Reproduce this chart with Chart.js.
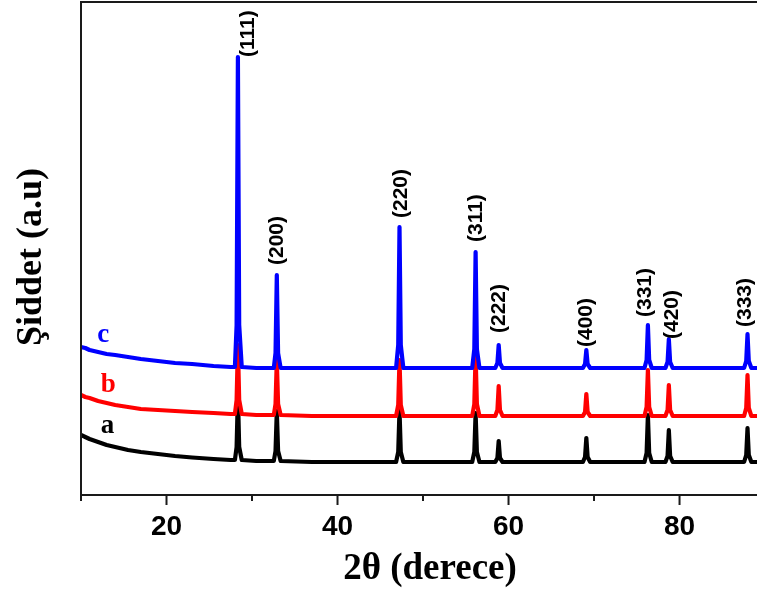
<!DOCTYPE html>
<html>
<head>
<meta charset="utf-8">
<script src="https://cdn.jsdelivr.net/npm/chart.js@4/dist/chart.umd.min.js"></script>
<style>
html, body { margin:0; padding:0; background:#fff; }
#wrap { width:757px; height:595px; }
</style>
</head>
<body>
<div id="wrap"><canvas id="xrd" width="757" height="595"></canvas></div>
<script>
/* 2theta positions (degrees) */
let twoTheta = [
10, 10.5, 11, 12, 13, 14, 15.5, 17, 19, 21, 23, 25.5, 27.5,
28.0, 28.2, 28.35, 28.5, 28.8,
30.5,
32.55, 32.75, 32.9, 33.05, 33.35,
37, 42,
46.85, 47.1, 47.25, 47.4, 47.7,
52,
55.75, 56.0, 56.15, 56.3, 56.6,
57.7,
58.45, 58.7, 58.85, 59.0, 59.3,
64,
68.7, 68.95, 69.1, 69.25, 69.55,
73,
75.9, 76.15, 76.3, 76.45, 76.75,
77.7,
78.35, 78.6, 78.75, 78.9, 79.2,
83,
87.55, 87.8, 87.95, 88.1, 88.4,
89.5
];

/* intensity (a.u.), sample a - black */
let seriesA = [
60, 58, 56, 53, 50, 48, 45, 43, 41, 39, 37.5, 36, 35,
35, 48, 100, 48, 35,
34,
34, 44, 84, 44, 34,
33, 33,
33, 43, 85, 43, 33,
33,
33, 43, 82, 43, 33,
33,
33, 37, 54, 37, 33,
33,
33, 38, 57, 38, 33,
33,
33, 42, 80, 42, 33,
33,
33, 39, 65, 39, 33,
33,
33, 40, 67, 40, 33,
33
];

/* sample b - red */
let seriesB = [
100, 98, 97, 94, 92, 90, 88, 86, 85, 84, 83, 82, 81,
81, 95, 150, 95, 81,
80,
80, 91, 135, 91, 80,
79, 79,
79, 90, 135, 90, 79,
79,
79, 91, 140, 91, 79,
79,
79, 85, 109, 85, 79,
79,
79, 83, 101, 83, 79,
79,
79, 88, 125, 88, 79,
79,
79, 85, 110, 85, 79,
79,
79, 87, 120, 87, 79,
79
];

/* sample c - blue */
let seriesC = [
148, 147, 145, 143, 141, 140, 138, 136, 134, 132, 131, 129, 128,
128, 170, 438, 170, 128,
127,
127, 142, 220, 142, 127,
127, 127,
127, 150, 268, 150, 127,
127,
127, 146, 243, 146, 127,
127,
127, 132, 150, 132, 127,
127,
127, 131, 145, 131, 127,
127,
127, 135, 170, 135, 127,
127,
127, 133, 156, 133, 127,
127,
127, 134, 161, 134, 127,
127
];

/* reflections and the index of each peak top in the arrays */
let hkl = ['(111)', '(200)', '(220)', '(311)', '(222)', '(400)', '(331)', '(420)', '(333)'];
let peakIdx = [15, 21, 28, 34, 40, 46, 52, 58, 64];

let xTicks = [10, 20, 30, 40, 50, 60, 70, 80, 90];

function pts(ys) {
  return twoTheta.map((x, i) => ({x: x, y: ys[i]}));
}

/* label offsets in px: [dx, gap above peak top] */
const labelOff = [[10, 0], [0, 10], [2, 9], [1, 10], [1, 12], [0, 3], [-3, 8], [3, 0], [-2, 7]];

const decor = {
  id: 'decor',
  afterDatasetsDraw(chart) {
    const ctx = chart.ctx;
    const area = chart.chartArea;
    const xs = chart.scales.x;
    const ys = chart.scales.y;
    ctx.save();

    // frame: left, top, bottom
    ctx.strokeStyle = '#1a1a1a';
    ctx.lineWidth = 2;
    ctx.beginPath();
    ctx.moveTo(area.left, area.bottom);
    ctx.lineTo(area.left, area.top);
    ctx.lineTo(chart.width, area.top);
    ctx.moveTo(area.left, area.bottom);
    ctx.lineTo(chart.width, area.bottom);
    ctx.stroke();

    // ticks, outward
    xTicks.forEach(v => {
      const px = xs.getPixelForValue(v);
      if (px < area.left - 1 || px > chart.width) return;
      const len = (v % 20 === 0) ? 10 : 6;
      ctx.beginPath();
      ctx.moveTo(px, area.bottom);
      ctx.lineTo(px, area.bottom + len);
      ctx.stroke();
    });

    // peak labels
    ctx.fillStyle = '#000';
    ctx.font = 'bold 21px "Liberation Sans", Arial, sans-serif';
    ctx.textAlign = 'left';
    ctx.textBaseline = 'middle';
    hkl.forEach((t, i) => {
      const k = peakIdx[i];
      const px = xs.getPixelForValue(twoTheta[k]) + labelOff[i][0];
      const py = ys.getPixelForValue(seriesC[k]) - labelOff[i][1];
      ctx.save();
      ctx.translate(px, py);
      ctx.rotate(-Math.PI / 2);
      ctx.fillText(t, 0, 0);
      ctx.restore();
    });

    // sample tags
    ctx.font = 'bold 27px "Liberation Serif", "Times New Roman", serif';
    ctx.textAlign = 'center';
    ctx.textBaseline = 'middle';
    [['c', '#0000ff', 12.6, 160], ['b', '#ff0000', 13.2, 110], ['a', '#000000', 13.1, 69]].forEach(s => {
      ctx.fillStyle = s[1];
      ctx.fillText(s[0], xs.getPixelForValue(s[2]), ys.getPixelForValue(s[3]));
    });

    // axis titles
    ctx.fillStyle = '#000';
    ctx.font = 'bold 36px "Liberation Serif", "Times New Roman", serif';
    ctx.save();
    ctx.translate(32, 257);
    ctx.rotate(-Math.PI / 2);
    ctx.fillText('Şiddet (a.u)', 0, 0);
    ctx.restore();
    ctx.font = 'bold 37px "Liberation Serif", "Times New Roman", serif';
    ctx.fillText('2θ (derece)', 430, 569);

    ctx.restore();
  }
};

new Chart(document.getElementById('xrd'), {
  type: 'line',
  data: {
    datasets: [
      {label: 'c', data: pts(seriesC), borderColor: '#0000ff'},
      {label: 'b', data: pts(seriesB), borderColor: '#ff0000'},
      {label: 'a', data: pts(seriesA), borderColor: '#000000'}
    ]
  },
  options: {
    responsive: false,
    animation: false,
    devicePixelRatio: 1,
    layout: {padding: {top: 2, right: 0, left: 0, bottom: 0}},
    elements: {
      point: {radius: 0},
      line: {borderWidth: 4.2, tension: 0, borderJoinStyle: 'round', borderCapStyle: 'round'}
    },
    plugins: {legend: {display: false}, tooltip: {enabled: false}},
    scales: {
      x: {
        type: 'linear',
        min: 10,
        max: 89.06,
        afterFit: s => { s.height = 100; },
        grid: {display: false, drawTicks: false},
        border: {display: false},
        ticks: {
          stepSize: 10,
          includeBounds: false,
          autoSkip: false,
          maxRotation: 0,
          padding: 15,
          color: '#000',
          font: {family: '"Liberation Sans", Arial, sans-serif', size: 28, weight: 'bold'},
          callback: v => (v % 20 === 0 ? String(v) : '')
        }
      },
      y: {
        min: 0,
        max: 493,
        afterFit: s => { s.width = 81; },
        grid: {display: false, drawTicks: false},
        border: {display: false},
        ticks: {display: false}
      }
    }
  },
  plugins: [decor]
});
</script>
</body>
</html>
